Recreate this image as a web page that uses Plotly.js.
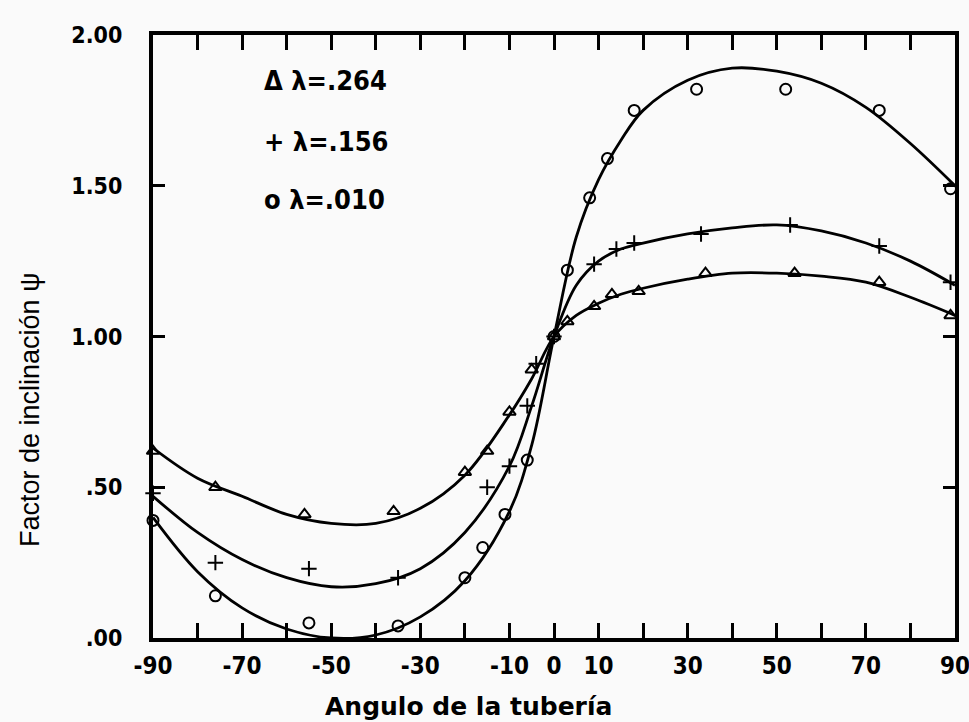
<!DOCTYPE html>
<html>
<head>
<meta charset="utf-8">
<script src="https://cdn.plot.ly/plotly-3.0.1.min.js"></script>
<style>html,body{margin:0;padding:0;background:#fafafa;}#chart{width:969px;height:722px;}</style>
</head>
<body>
<div id="chart"></div>
<script>
// Fitted curves
const curveX = [-90, -80, -70, -60, -50, -40, -30, -20, -10, -5, 0, 5, 10, 15, 20, 30, 40, 50, 60, 70, 80, 90];
const curve264 = [0.63, 0.53, 0.47, 0.41, 0.38, 0.38, 0.43, 0.54, 0.74, 0.86, 1.0, 1.07, 1.11, 1.14, 1.16, 1.19, 1.21, 1.21, 1.20, 1.18, 1.13, 1.07];
const curve156 = [0.47, 0.35, 0.26, 0.20, 0.17, 0.18, 0.23, 0.35, 0.57, 0.77, 1.0, 1.17, 1.25, 1.29, 1.31, 1.34, 1.36, 1.37, 1.35, 1.31, 1.25, 1.17];
const curve010 = [0.40, 0.22, 0.10, 0.03, 0.00, 0.01, 0.07, 0.19, 0.42, 0.64, 1.0, 1.33, 1.52, 1.65, 1.75, 1.85, 1.89, 1.88, 1.84, 1.76, 1.64, 1.50];

// Measured points
const ptsX264 = [-90, -76, -56, -36, -20, -15, -10, -5, 0, 3, 9, 13, 19, 34, 54, 73, 89];
const ptsY264 = [0.62, 0.50, 0.41, 0.42, 0.55, 0.62, 0.75, 0.89, 1.0, 1.05, 1.10, 1.14, 1.15, 1.21, 1.21, 1.18, 1.07];
const ptsX156 = [-90, -76, -55, -35, -15, -10, -6, -4, 0, 9, 14, 18, 33, 53, 73, 89];
const ptsY156 = [0.48, 0.25, 0.23, 0.20, 0.50, 0.57, 0.77, 0.91, 1.0, 1.24, 1.29, 1.31, 1.34, 1.37, 1.30, 1.18];
const ptsX010 = [-90, -76, -55, -35, -20, -16, -11, -6, 0, 3, 8, 12, 18, 32, 52, 73, 89];
const ptsY010 = [0.39, 0.14, 0.05, 0.04, 0.20, 0.30, 0.41, 0.59, 1.0, 1.22, 1.46, 1.59, 1.75, 1.82, 1.82, 1.75, 1.49];

const xTickVals = [-90, -70, -50, -30, -10, 0, 10, 30, 50, 70, 90];
const xTickText = ['-90', '-70', '-50', '-30', '-10', '0', '10', '30', '50', '70', '90'];
const yTickVals = [0, 0.5, 1, 1.5, 2];
const yTickText = ['.00', '.50', '1.00', '1.50', '2.00'];

const legendLabels = ['\u0394 \u03bb=.264', '+ \u03bb=.156', 'o \u03bb=.010'];

const condFam = 'DejaVu Sans Condensed, Liberation Sans Narrow, Arial';

function line(y) {
  return {x: curveX, y: y, mode: 'lines', line: {color: '#000', width: 2.8, shape: 'spline', smoothing: 1.0}, showlegend: false, hoverinfo: 'skip', cliponaxis: false};
}
function pts(x, y, sym) {
  return {x: x, y: y, mode: 'markers', marker: {symbol: sym, size: 11, color: '#000', line: {color: '#000', width: 2}}, showlegend: false, cliponaxis: false};
}

const data = [
  line(curve264), line(curve156), line(curve010),
  pts(ptsX264, ptsY264, 'triangle-up-open'),
  pts(ptsX156, ptsY156, 'cross-thin-open'),
  pts(ptsX010, ptsY010, 'circle-open')
];

const W = 802, H = 603, L = 153, T = 35;
function px(x) { return (x - L) / W; }
function py(y) { return (T + H - y) / H; }

const annotations = [
  {text: 'Angulo de la tuber\u00eda', x: px(468), y: py(706), xref: 'paper', yref: 'paper', showarrow: false, xanchor: 'center', yanchor: 'middle',
   font: {family: 'DejaVu Sans, Verdana, Arial', size: 25, color: '#000', weight: 'bold'}},
  {text: 'Factor de inclinaci\u00f3n \u03c8', x: px(30), y: py(410), xref: 'paper', yref: 'paper', showarrow: false, textangle: -90, xanchor: 'center', yanchor: 'middle',
   font: {family: 'Liberation Sans Narrow, Liberation Sans, Arial', size: 27, color: '#000'}}
];
const legY = [80, 141, 200];
legendLabels.forEach((t, i) => {
  annotations.push({text: t, x: px(262), y: py(legY[i]), xref: 'paper', yref: 'paper', showarrow: false, xanchor: 'left', yanchor: 'middle',
    font: {family: condFam, size: 27, color: '#000', weight: 'bold'}});
});

const layout = {
  width: 969, height: 722,
  margin: {l: 153, r: 14, t: 35, b: 84, pad: 0},
  paper_bgcolor: '#fafafa', plot_bgcolor: '#fafafa',
  showlegend: false,
  xaxis: {
    range: [-90, 90], tickmode: 'array', tickvals: xTickVals, ticktext: xTickText,
    ticks: 'inside', ticklen: 15, tickwidth: 3, tickcolor: '#000',
    minor: {tickmode: 'linear', tick0: -90, dtick: 10, ticks: 'inside', ticklen: 15, tickwidth: 3, tickcolor: '#000', showgrid: false},
    showline: true, linecolor: '#000', linewidth: 4, mirror: 'ticks',
    showgrid: false, zeroline: false, tickfont: {family: condFam, size: 24, color: '#000', weight: 'bold'},
    ticklabelstandoff: 3, ticklabeloverflow: 'allow'
  },
  yaxis: {
    range: [0, 2], tickmode: 'array', tickvals: yTickVals, ticktext: yTickText,
    ticks: 'inside', ticklen: 12, tickwidth: 3, tickcolor: '#000',
    showline: true, linecolor: '#000', linewidth: 4, mirror: 'ticks',
    showgrid: false, zeroline: false, tickfont: {family: condFam, size: 23, color: '#000', weight: 'bold'}, ticklabelstandoff: 22
  },
  annotations: annotations
};

Plotly.newPlot('chart', data, layout, {displayModeBar: false, staticPlot: true});
</script>
</body>
</html>
